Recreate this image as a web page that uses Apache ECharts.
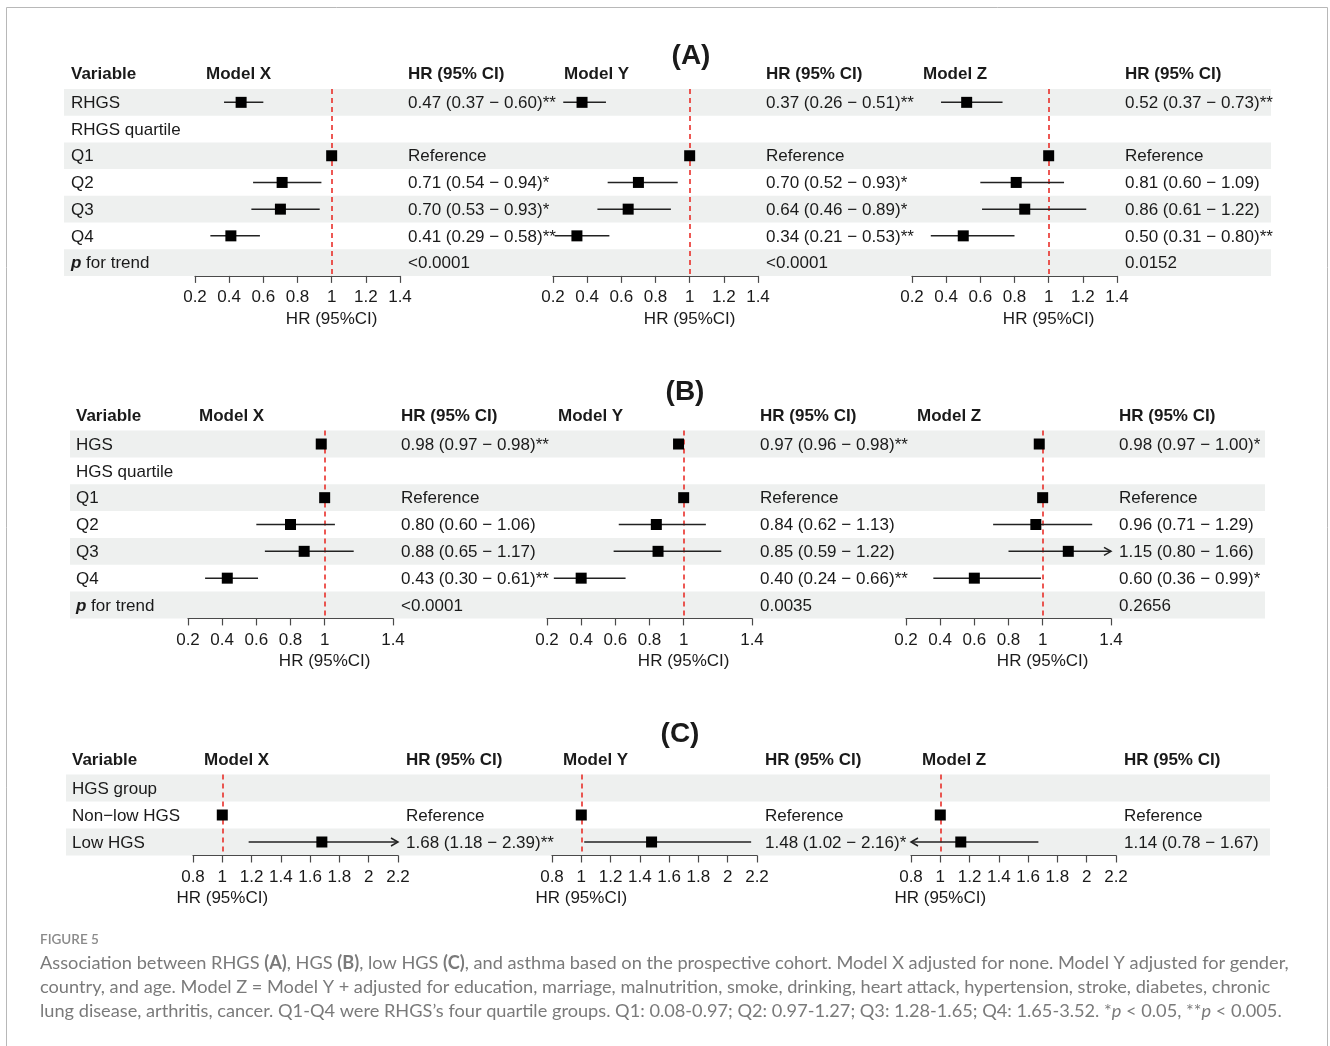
<!DOCTYPE html>
<html><head><meta charset="utf-8">
<script src="https://cdn.jsdelivr.net/npm/echarts@6/dist/echarts.min.js"></script>
<style>html,body{margin:0;padding:0;background:#fff}#c{width:1330px;height:1046px}</style>
</head><body><div id="c"></div>
<script>
// ================= DATA =================
const modelNames = ['Model X', 'Model Y', 'Model Z'];

// Panel A – RHGS
const rowsA = ['RHGS', 'RHGS quartile', 'Q1', 'Q2', 'Q3', 'Q4', 'p for trend'];
const ticksA = [0.2, 0.4, 0.6, 0.8, 1, 1.2, 1.4];
const A_X_est = [0.47, null, 1, 0.71, 0.70, 0.41, null];
const A_X_lo  = [0.37, null, null, 0.54, 0.53, 0.29, null];
const A_X_hi  = [0.60, null, null, 0.94, 0.93, 0.58, null];
const A_X_sig = ['**', '', '', '*', '*', '**', ''];
const A_Y_est = [0.37, null, 1, 0.70, 0.64, 0.34, null];
const A_Y_lo  = [0.26, null, null, 0.52, 0.46, 0.21, null];
const A_Y_hi  = [0.51, null, null, 0.93, 0.89, 0.53, null];
const A_Y_sig = ['**', '', '', '*', '*', '**', ''];
const A_Z_est = [0.52, null, 1, 0.81, 0.86, 0.50, null];
const A_Z_lo  = [0.37, null, null, 0.60, 0.61, 0.31, null];
const A_Z_hi  = [0.73, null, null, 1.09, 1.22, 0.80, null];
const A_Z_sig = ['**', '', '', '', '', '**', ''];
const A_pTrend = ['<0.0001', '<0.0001', '0.0152'];

// Panel B – HGS
const rowsB = ['HGS', 'HGS quartile', 'Q1', 'Q2', 'Q3', 'Q4', 'p for trend'];
const ticksB = [0.2, 0.4, 0.6, 0.8, 1, 1.4];
const B_X_est = [0.98, null, 1, 0.80, 0.88, 0.43, null];
const B_X_lo  = [0.97, null, null, 0.60, 0.65, 0.30, null];
const B_X_hi  = [0.98, null, null, 1.06, 1.17, 0.61, null];
const B_X_sig = ['**', '', '', '', '', '**', ''];
const B_Y_est = [0.97, null, 1, 0.84, 0.85, 0.40, null];
const B_Y_lo  = [0.96, null, null, 0.62, 0.59, 0.24, null];
const B_Y_hi  = [0.98, null, null, 1.13, 1.22, 0.66, null];
const B_Y_sig = ['**', '', '', '', '', '**', ''];
const B_Z_est = [0.98, null, 1, 0.96, 1.15, 0.60, null];
const B_Z_lo  = [0.97, null, null, 0.71, 0.80, 0.36, null];
const B_Z_hi  = [1.00, null, null, 1.29, 1.66, 0.99, null];
const B_Z_sig = ['*', '', '', '', '', '*', ''];
const B_pTrend = ['<0.0001', '0.0035', '0.2656'];

// Panel C – low HGS
const rowsC = ['HGS group', 'Non\u2212low HGS', 'Low HGS'];
const ticksC = [0.8, 1, 1.2, 1.4, 1.6, 1.8, 2, 2.2];
const C_X_est = [null, 1, 1.68];
const C_X_lo  = [null, null, 1.18];
const C_X_hi  = [null, null, 2.39];
const C_X_sig = ['', '', '**'];
const C_Y_est = [null, 1, 1.48];
const C_Y_lo  = [null, null, 1.02];
const C_Y_hi  = [null, null, 2.16];
const C_Y_sig = ['', '', '*'];
const C_Z_est = [null, 1, 1.14];
const C_Z_lo  = [null, null, 0.78];
const C_Z_hi  = [null, null, 1.67];
const C_Z_sig = ['', '', ''];
const C_pTrend = ['', '', ''];

const captionLines = [
  'Association between RHGS {b|(A)}, HGS {b|(B)}, low HGS {b|(C)}, and asthma based on the prospective cohort. Model X adjusted for none. Model Y adjusted for gender,',
  'country, and age. Model Z = Model Y + adjusted for education, marriage, malnutrition, smoke, drinking, heart attack, hypertension, stroke, diabetes, chronic',
  'lung disease, arthritis, cancer. Q1-Q4 were RHGS\u2019s four quartile groups. Q1: 0.08-0.97; Q2: 0.97-1.27; Q3: 1.28-1.65; Q4: 1.65-3.52. *{i|p} < 0.05, **{i|p} < 0.005.'
];

// ================= STYLE / LAYOUT =================
const FONT = '"Liberation Sans", Arial, Helvetica, sans-serif';
const CAPFONT = 'Lato, "Open Sans", sans-serif';
const TXT = '#1a1a1a';
const AXIS = '#4a4a4a';
const STRIPE = '#eef0ef';
const RED = '#e8221c';
const FS = 17;
const CAPFS = 18.2;
const DY = 1; // text baseline nudge

const panels = [
  { title: '(A)', rows: rowsA, ticks: ticksA, min: 0.2, max: 1.4, pTrend: A_pTrend,
    models: [
      { est: A_X_est, lo: A_X_lo, hi: A_X_hi, sig: A_X_sig },
      { est: A_Y_est, lo: A_Y_lo, hi: A_Y_hi, sig: A_Y_sig },
      { est: A_Z_est, lo: A_Z_lo, hi: A_Z_hi, sig: A_Z_sig }],
    L: { rowTop: 89, rowH: 26.7, stripeL: 64, stripeR: 1271, varX: 71, axisStarts: [195, 553, 912], axisW: 205, titleX: 691, titleY: 56, headerY: 74 } },
  { title: '(B)', rows: rowsB, ticks: ticksB, min: 0.2, max: 1.4, pTrend: B_pTrend,
    models: [
      { est: B_X_est, lo: B_X_lo, hi: B_X_hi, sig: B_X_sig },
      { est: B_Y_est, lo: B_Y_lo, hi: B_Y_hi, sig: B_Y_sig },
      { est: B_Z_est, lo: B_Z_lo, hi: B_Z_hi, sig: B_Z_sig }],
    L: { rowTop: 430.6, rowH: 26.83, stripeL: 70, stripeR: 1265, varX: 76, axisStarts: [188, 547, 906], axisW: 205, titleX: 685, titleY: 392, headerY: 416 } },
  { title: '(C)', rows: rowsC, ticks: ticksC, min: 0.8, max: 2.2, pTrend: C_pTrend,
    models: [
      { est: C_X_est, lo: C_X_lo, hi: C_X_hi, sig: C_X_sig },
      { est: C_Y_est, lo: C_Y_lo, hi: C_Y_hi, sig: C_Y_sig },
      { est: C_Z_est, lo: C_Z_lo, hi: C_Z_hi, sig: C_Z_sig }],
    L: { rowTop: 774.5, rowH: 27, stripeL: 66, stripeR: 1270, varX: 72, axisStarts: [193, 552, 911], axisW: 205, titleX: 680, titleY: 734, headerY: 760 } }
];

function hrText(P, M, m, i) {
  if (M.lo[i] != null) return M.est[i].toFixed(2) + ' (' + M.lo[i].toFixed(2) + ' \u2212 ' + M.hi[i].toFixed(2) + ')' + M.sig[i];
  if (M.est[i] === 1) return 'Reference';
  if (P.rows[i] === 'p for trend') return P.pTrend[m];
  return '';
}

function txt(text, x, y, extra) {
  return Object.assign({ type: 'text', x: x, y: y, silent: true,
    style: Object.assign({ text: text, fontSize: FS, fontFamily: FONT, fill: TXT,
      align: 'left', verticalAlign: 'middle', textAlign: 'left', textVerticalAlign: 'middle' }, extra || {}) });
}

const grid = [], xAxis = [], yAxis = [], series = [], graphic = [];

panels.forEach(function (P) {
  const L = P.L, n = P.rows.length, H = n * L.rowH;
  // ---- table grid (stripes + variable names) ----
  let gi = grid.length;
  grid.push({ left: L.stripeL, top: L.rowTop, width: L.stripeR - L.stripeL, height: H });
  xAxis.push({ gridIndex: gi, type: 'value', min: 0, max: 1, show: false });
  yAxis.push({ gridIndex: gi, type: 'category', data: P.rows, inverse: true, show: false });
  series.push({
    type: 'custom', xAxisIndex: gi, yAxisIndex: gi, z: 0, silent: true,
    data: P.rows.map(function (r, i) { return [0, i]; }),
    renderItem: function (params, api) {
      const i = params.dataIndex;
      const c0 = api.coord([0, i]), c1 = api.coord([1, i]);
      const bh = api.size([0, 1])[1];
      const ch = [];
      if (i % 2 === 0) ch.push({ type: 'rect', shape: { x: c0[0], y: c0[1] - bh / 2, width: c1[0] - c0[0], height: bh }, style: { fill: STRIPE } });
      const name = P.rows[i];
      const tx = c0[0] + (L.varX - L.stripeL);
      if (name === 'p for trend') {
        ch.push({ type: 'text', x: tx, y: c0[1] + DY, style: { text: '{p|p} for trend', fontSize: FS, fontFamily: FONT, fill: TXT,
          align: 'left', verticalAlign: 'middle', textAlign: 'left', textVerticalAlign: 'middle',
          rich: { p: { fontStyle: 'italic', fontWeight: 'bold', fontSize: FS, fontFamily: FONT, fill: TXT } } } });
      } else {
        ch.push({ type: 'text', x: tx, y: c0[1] + DY, style: { text: name, fontSize: FS, fontFamily: FONT, fill: TXT,
          align: 'left', verticalAlign: 'middle', textAlign: 'left', textVerticalAlign: 'middle' } });
      }
      return { type: 'group', children: ch };
    }
  });

  // ---- headers / title ----
  graphic.push(txt('Variable', L.varX, L.headerY, { fontWeight: 'bold' }));
  graphic.push(txt(P.title, L.titleX, L.titleY, { fontWeight: 'bold', fontSize: 28, align: 'center', textAlign: 'center' }));

  // ---- model grids ----
  P.models.forEach(function (M, m) {
    const g = grid.length;
    const ax0 = L.axisStarts[m];
    grid.push({ left: ax0, top: L.rowTop, width: L.axisW, height: H });
    graphic.push(txt(modelNames[m], ax0 + 11, L.headerY, { fontWeight: 'bold' }));
    graphic.push(txt('HR (95% CI)', ax0 + L.axisW + 8, L.headerY, { fontWeight: 'bold' }));
    xAxis.push({ gridIndex: g, type: 'value', min: P.min, max: P.max, interval: 0.2, position: 'bottom',
      axisLine: { show: true, onZero: false, lineStyle: { color: AXIS, width: 1.2 } },
      axisTick: { show: true, length: 7, customValues: P.ticks, lineStyle: { color: AXIS, width: 1.2 } },
      axisLabel: { show: true, customValues: P.ticks, fontSize: FS, fontFamily: FONT, color: TXT, margin: 13,
        showMinLabel: true, showMaxLabel: true, formatter: function (v) { return String(+v.toFixed(2)); } },
      splitLine: { show: false } });
    yAxis.push({ gridIndex: g, type: 'category', data: P.rows, inverse: true, show: false });

    // CI lines with arrows when clipped
    const ciData = [];
    M.est.forEach(function (e, i) { if (M.lo[i] != null) ciData.push([e, i, M.lo[i], M.hi[i]]); });
    series.push({
      type: 'custom', xAxisIndex: g, yAxisIndex: g, z: 2, silent: true,
      data: ciData,
      renderItem: function (params, api) {
        const i = api.value(1), lo = api.value(2), hi = api.value(3);
        const loC = Math.max(lo, P.min), hiC = Math.min(hi, P.max);
        const p1 = api.coord([loC, i]), p2 = api.coord([hiC, i]);
        const st = { stroke: '#222', lineWidth: 1.5, fill: 'none' };
        const ch = [{ type: 'line', shape: { x1: p1[0], y1: p1[1], x2: p2[0], y2: p2[1] }, style: st }];
        if (hi > P.max) ch.push({ type: 'polyline', shape: { points: [[p2[0] - 7, p2[1] - 4], [p2[0], p2[1]], [p2[0] - 7, p2[1] + 4]] }, style: st });
        if (lo < P.min) ch.push({ type: 'polyline', shape: { points: [[p1[0] + 7, p1[1] - 4], [p1[0], p1[1]], [p1[0] + 7, p1[1] + 4]] }, style: st });
        return { type: 'group', children: ch };
      }
    });

    // point estimates + reference line
    const ptData = [];
    M.est.forEach(function (e, i) { if (e != null) ptData.push([e, i]); });
    series.push({
      type: 'scatter', xAxisIndex: g, yAxisIndex: g, z: 3, silent: true,
      symbol: 'rect', symbolSize: 11, itemStyle: { color: '#000', opacity: 1 },
      data: ptData,
      markLine: { silent: true, z: 1, symbol: 'none', label: { show: false },
        lineStyle: { color: RED, type: [5, 4], width: 1.5 }, data: [{ xAxis: 1 }] }
    });

    // HR text column
    series.push({
      type: 'custom', xAxisIndex: g, yAxisIndex: g, z: 2, silent: true,
      data: P.rows.map(function (r, i) { return [P.max, i]; }),
      renderItem: function (params, api) {
        const i = params.dataIndex;
        const c = api.coord([P.max, i]);
        return { type: 'text', x: c[0] + 8, y: c[1] + DY, style: { text: hrText(P, M, m, i), fontSize: FS, fontFamily: FONT, fill: TXT,
          align: 'left', verticalAlign: 'middle', textAlign: 'left', textVerticalAlign: 'middle' } };
      }
    });

    // axis title centred on HR = 1
    series.push({
      type: 'custom', xAxisIndex: g, yAxisIndex: g, z: 2, silent: true,
      data: [[1, n - 1]],
      renderItem: function (params, api) {
        const c = api.coord([1, n - 1]);
        const bh = api.size([0, 1])[1];
        return { type: 'text', x: c[0], y: c[1] + bh / 2 + 43, style: { text: 'HR (95%CI)', fontSize: FS, fontFamily: FONT, fill: TXT,
          align: 'center', verticalAlign: 'middle', textAlign: 'center', textVerticalAlign: 'middle' } };
      }
    });
  });
});

// ---- frame & caption ----
graphic.push({ type: 'rect', silent: true, shape: { x: 6.5, y: 7.5, width: 1321, height: 1100 }, style: { fill: 'none', stroke: '#b8b8b8', lineWidth: 1 } });
graphic.push(txt('FIGURE 5', 40, 940, { fontFamily: CAPFONT, fontSize: 13.5, fill: '#8a8a8a', fontWeight: 600 }));
captionLines.forEach(function (line, k) {
  graphic.push(txt(line, 40, 963 + k * 24, { fontFamily: CAPFONT, fontSize: CAPFS, fill: '#7a7a7a',
    rich: { b: { fontWeight: 'bold', fontFamily: CAPFONT, fontSize: CAPFS, fill: '#7a7a7a' },
            i: { fontStyle: 'italic', fontFamily: CAPFONT, fontSize: CAPFS, fill: '#7a7a7a' } } }));
});

const chart = echarts.init(document.getElementById('c'), null, { renderer: 'canvas' });
chart.setOption({
  animation: false,
  backgroundColor: '#fff',
  textStyle: { fontFamily: FONT },
  grid: grid, xAxis: xAxis, yAxis: yAxis, series: series, graphic: graphic
});
</script></body></html>
